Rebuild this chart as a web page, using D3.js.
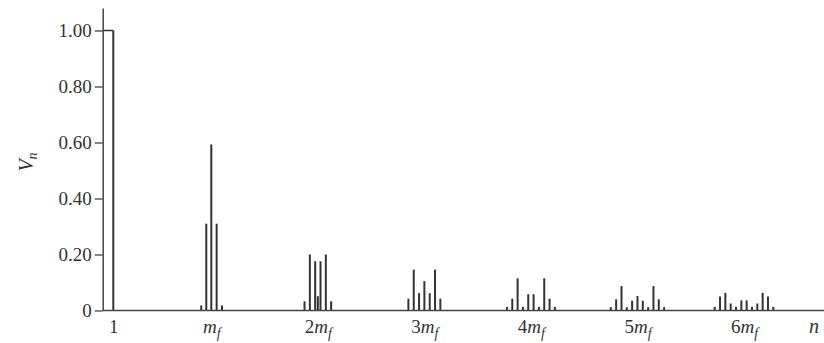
<!DOCTYPE html>
<html>
<head>
<meta charset="utf-8">
<script src="https://cdn.jsdelivr.net/npm/d3@7"></script>
<style>
  body { margin: 0; background: #fff; }
  svg text { font-family: "Liberation Serif", "DejaVu Serif", serif; fill: #333; }
</style>
</head>
<body>
<svg></svg>
<script>
// harmonic spectrum: fundamental plus sideband clusters around k*mf
const mf = 40;
const fundamental = 1.0;
const clusterIndex = [1, 2, 3, 4, 5, 6];
const sidebandOffsets = [
  [-4, -2, 0, 2, 4],
  [-5, -3, -1, 0, 1, 3, 5],
  [-6, -4, -2, 0, 2, 4, 6],
  [-9, -7, -5, -3, -1, 1, 3, 5, 7, 9],
  [-10, -8, -6, -4, -2, 0, 2, 4, 6, 8, 10],
  [-11, -9, -7, -5, -3, -1, 1, 3, 5, 7, 9, 11]
];
const amplitudes = [
  [0.018, 0.31, 0.593, 0.31, 0.018],
  [0.033, 0.2, 0.176, 0.051, 0.176, 0.2, 0.033],
  [0.042, 0.146, 0.062, 0.105, 0.062, 0.146, 0.042],
  [0.013, 0.042, 0.115, 0.013, 0.058, 0.058, 0.013, 0.115, 0.042, 0.013],
  [0.012, 0.04, 0.087, 0.012, 0.035, 0.052, 0.035, 0.012, 0.087, 0.04, 0.012],
  [0.013, 0.05, 0.063, 0.025, 0.013, 0.036, 0.036, 0.013, 0.025, 0.063, 0.05, 0.013]
];
const yTicks = [0, 0.2, 0.4, 0.6, 0.8, 1.0];
const xTickLabels = ["1", "m_f", "2m_f", "3m_f", "4m_f", "5m_f", "6m_f"];

const width = 824;
const height = 343;
const axisX = 102.7;
const baseY = 310.5;
const yMax = 1.08;

const svg = d3.select("svg").attr("width", width).attr("height", height);

const x = d3
  .scaleLinear()
  .domain([1, mf, 6 * mf])
  .range([113.3, 211.3, 744]);

const y = d3.scaleLinear().domain([0, yMax]).range([baseY, baseY - 280 * yMax]);

const bars = [{ n: 1, v: fundamental }];
clusterIndex.forEach((k, i) => {
  sidebandOffsets[i].forEach((j, m) => {
    bars.push({ n: k * mf + j, v: amplitudes[i][m] });
  });
});

// bars as thin vertical lines
svg
  .selectAll("line.bar")
  .data(bars)
  .enter()
  .append("line")
  .attr("class", "bar")
  .attr("x1", (d) => x(d.n))
  .attr("x2", (d) => x(d.n))
  .attr("y1", y(0))
  .attr("y2", (d) => y(d.v))
  .attr("stroke", "#333")
  .attr("stroke-width", 2);

// top of the fundamental joins the y axis
svg
  .append("line")
  .attr("x1", axisX)
  .attr("x2", x(1))
  .attr("y1", y(fundamental))
  .attr("y2", y(fundamental))
  .attr("stroke", "#333")
  .attr("stroke-width", 1.5);

// y axis
const yAxis = d3
  .axisLeft(y)
  .tickValues(yTicks)
  .tickSize(8)
  .tickSizeOuter(0)
  .tickPadding(3)
  .tickFormat((d) => (d === 0 ? "0" : d3.format(".2f")(d)));

const gy = svg
  .append("g")
  .attr("transform", `translate(${axisX}, 0)`)
  .call(yAxis);
gy.select(".domain").attr("stroke", "#444").attr("stroke-width", 1.5);
gy.selectAll(".tick line").attr("stroke", "#444").attr("stroke-width", 1.3);
gy.selectAll(".tick text")
  .style("font-size", "19px")
  .attr("font-family", "Liberation Serif")
  .attr("fill", "#333");

// x axis line
svg
  .append("line")
  .attr("x1", axisX)
  .attr("x2", width)
  .attr("y1", y(0))
  .attr("y2", y(0))
  .attr("stroke", "#444")
  .attr("stroke-width", 1.5);

// x tick labels (no tick marks)
const xTickValues = [1].concat(clusterIndex.map((k) => k * mf));
const gx = svg
  .append("g")
  .attr("transform", `translate(0, ${y(0)})`)
  .call(d3.axisBottom(x).tickValues(xTickValues).tickSize(0).tickFormat(""));
gx.select(".domain").remove();

gx.selectAll(".tick").each(function (d, i) {
  const label = xTickLabels[i];
  const t = d3
    .select(this)
    .append("text")
    .attr("y", 22)
    .attr("text-anchor", "middle")
    .style("font-size", "19px")
    .attr("fill", "#333");
  const parts = label.split("_");
  const head = parts[0];
  const coef = head.replace("m", "");
  if (coef) t.append("tspan").text(coef);
  if (head.includes("m")) t.append("tspan").style("font-style", "italic").text("m");
  if (parts[1]) {
    t.append("tspan")
      .attr("dy", 5)
      .style("font-size", "14px")
      .style("font-style", "italic")
      .text(parts[1]);
  }
});

// axis titles
svg
  .append("text")
  .attr("x", 814)
  .attr("y", y(0) + 22)
  .attr("text-anchor", "middle")
  .style("font-size", "20px")
  .style("font-style", "italic")
  .text("n");

const yt = svg
  .append("text")
  .attr("transform", "translate(33, 162) rotate(-90)")
  .attr("text-anchor", "middle")
  .style("font-size", "20px")
  .style("font-style", "italic");
yt.append("tspan").text("V");
yt.append("tspan").attr("dy", 4).style("font-size", "14px").text("n");
</script>
</body>
</html>
